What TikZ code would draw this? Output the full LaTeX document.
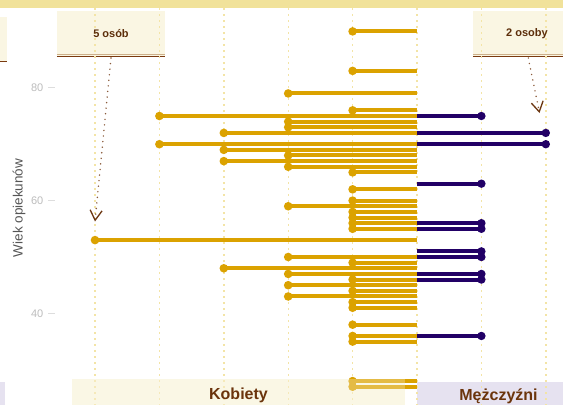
\documentclass[tikz,border=0pt]{standalone}
\usepackage{fontspec}
\setmainfont{Liberation Sans}
\usetikzlibrary{arrows.meta}
\definecolor{gold}{HTML}{DBA200}
\definecolor{navy}{HTML}{220066}
\definecolor{topband}{HTML}{F1E29A}
\definecolor{boxfill}{HTML}{FAF6E3}
\definecolor{boxtan}{HTML}{CDB08A}
\definecolor{boxbrown}{HTML}{7A3A10}
\definecolor{boxtext}{HTML}{5C2E0A}
\definecolor{gridcol}{HTML}{F3E4A6}
\definecolor{stripcream}{HTML}{FAF7E5}
\definecolor{striplav}{HTML}{E6E2F0}
\definecolor{striptext}{HTML}{6B340C}
\definecolor{arrowdot}{HTML}{8A5A3A}
\definecolor{arrowhd}{HTML}{6B3510}
\definecolor{ticklab}{HTML}{BDBDBD}
\definecolor{tickln}{HTML}{DDDDDD}
\definecolor{axtitle}{HTML}{555555}
\tikzset{
  annobox/.style={fill=boxfill, inner sep=0pt},
  annotext/.style={inner sep=0pt, text=boxtext, font=\fontsize{11}{13}\selectfont\bfseries},
  gridline/.style={draw=gridcol, line width=1.4pt, dash pattern=on 1.4pt off 4.6pt},
  wbar/.style={draw=gold, line width=4pt},
  mbar/.style={draw=navy, line width=4pt},
  striplabel/.style={text=striptext, font=\fontsize{16}{18}\selectfont\bfseries, inner sep=0pt},
  ticklabel/.style={text=ticklab, font=\fontsize{11}{13}\selectfont, inner sep=0pt, anchor=east},
  tickline/.style={draw=tickln, line width=0.8pt},
  annoarrow/.style={draw=arrowdot, line width=1.6pt, dash pattern=on 0pt off 5.6pt, line cap=round,
    -{Straight Barb[length=10pt,width=12pt,line width=1.3pt,color=arrowhd]}},
}
\begin{document}
\begin{tikzpicture}[x=1pt,y=-1pt]
\useasboundingbox (0,0) rectangle (563,405);
\fill[white] (0,0) rectangle (563,405);
\fill[topband] (0,0) rectangle (563,8.3);
% annotation boxes
\fill[boxfill] (0,17) rectangle (7,61.5);
\draw[boxbrown, line width=1.3pt] (0,61.5) -- (7,61.5);
\node[annobox, minimum width=108pt, minimum height=45pt] (boxA) at (111,33.5) {};
\node[annobox, minimum width=90pt, minimum height=45pt] (boxB) at (518,33.5) {};
\draw[boxtan, line width=0.9pt] ([yshift=1.6pt]boxA.south west) -- ([yshift=1.6pt]boxA.south east);
\draw[boxbrown, line width=1.3pt] (boxA.south west) -- (boxA.south east);
\draw[boxtan, line width=0.9pt] ([yshift=1.6pt]boxB.south west) -- ([yshift=1.6pt]boxB.south east);
\draw[boxbrown, line width=1.3pt] (boxB.south west) -- (boxB.south east);
% strips
\fill[stripcream] (72,378.5) rectangle (405,405);
\fill[striplav] (417,382) rectangle (563,405);
\fill[striplav] (0,382) rectangle (5,405);
% grid
\foreach \k in {-5,...,2}
  \draw[gridline] ({417+64.4*\k},8.3) -- ({417+64.4*\k},405);
% box texts
\node[annotext] (txtA) at (boxA) {5 osób};
\node[annotext] (txtB) at (527,33.5) {2 osoby};
% women bars
\foreach \a/\k in {90/1,83/1,79/2,76/1,75/4,74/2,73/2,72/3,70/4,69/3,68/2,67/3,66/2,65/1,
  62/1,60/1,59/2,58/1,57/1,56/1,55/1,53/5,50/2,49/1,48/3,47/2,46/1,45/2,44/1,43/2,42/1,41/1,
  38/1,36/1,35/1,28/1,27/1} {
  \pgfmathsetmacro\yy{87.8+(80-\a)*5.64}
  \draw[wbar] ({417-64.4*\k},\yy) -- (417,\yy);
  \fill[gold] ({417-64.4*\k},\yy) circle (4.3pt);
}
% men bars
\foreach \a/\k in {75/1,72/2,70/2,63/1,56/1,55/1,51/1,50/1,47/1,46/1,36/1} {
  \pgfmathsetmacro\yy{87.8+(80-\a)*5.64}
  \draw[mbar] (417,\yy) -- ({417+64.4*\k},\yy);
  \fill[navy] ({417+64.4*\k},\yy) circle (4.2pt);
}
% light overlay of the women strip over the bars
\fill[stripcream, opacity=0.3] (72,378.5) rectangle (405,405);
\node[striplabel, anchor=base] (kob) at (238.5,399) {Kobiety};
\node[striplabel, anchor=base] (mez) at (498.5,400.5) {Mężczyźni};
% axis
\foreach \v in {80,60,40} {
  \pgfmathsetmacro\yy{87.8+(80-\v)*5.64}
  \node[ticklabel] (t\v) at (43.5,\yy) {\v};
  \draw[tickline] (48,\yy) -- (55,\yy);
}
\node[rotate=90, text=axtitle, font=\fontsize{13.5}{15}\selectfont, inner sep=0pt] (ytitle) at (19,208) {Wiek opiekunów};
% annotation arrows
\coordinate (a1s) at (111,58);
\coordinate (a1e) at (95,221.5);
\coordinate (a2s) at (528.3,58);
\coordinate (a2e) at (539.5,113);
\draw[annoarrow] (a1s) -- (a1e);
\draw[annoarrow] (a2s) -- (a2e);
\end{tikzpicture}
\end{document}
